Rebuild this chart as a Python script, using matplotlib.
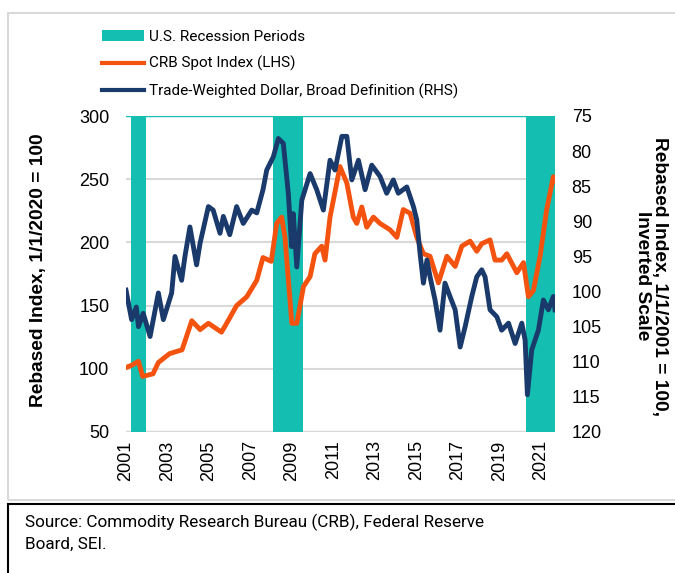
import matplotlib
matplotlib.use("Agg")
import matplotlib.pyplot as plt
from matplotlib.patches import Patch, Rectangle
from matplotlib.lines import Line2D

plt.rcParams['font.family'] = ['Liberation Sans', 'DejaVu Sans']
narrow = ['Roboto', 'Liberation Sans', 'DejaVu Sans']

# CRB spot index, left axis
crb_years = [2001.0, 2001.3, 2001.6, 2001.8, 2002.3, 2002.56, 2003.1, 2003.7, 2004.17,
             2004.57, 2004.97, 2005.6, 2005.85, 2006.33, 2006.82, 2007.3, 2007.6, 2008.0,
             2008.26, 2008.5, 2008.66, 2008.99, 2009.23, 2009.55, 2009.87, 2010.1, 2010.43,
             2010.59, 2010.83, 2011.31, 2011.64, 2011.95, 2012.12, 2012.36, 2012.6, 2012.92,
             2013.24, 2013.72, 2014.05, 2014.36, 2014.69, 2015.01, 2015.33, 2015.65, 2016.05,
             2016.46, 2016.86, 2017.18, 2017.58, 2017.9, 2018.14, 2018.54, 2018.78, 2019.1,
             2019.35, 2019.83, 2020.15, 2020.39, 2020.63, 2020.95, 2021.27, 2021.59, 2021.67]
crb_vals = [101, 103, 106, 94, 96, 105, 112, 115, 138,
            131, 136, 129, 136, 150, 157, 170, 188, 185,
            215, 220, 204, 136, 136, 165, 173, 191, 197,
            186, 220, 260, 247, 220, 215, 228, 212, 220,
            215, 210, 204, 226, 223, 204, 191, 189, 168,
            189, 181, 197, 201, 193, 199, 202, 186, 186,
            191, 176, 184, 157, 162, 189, 226, 252, 249]

# Trade-weighted dollar, right axis (inverted)
usd_years = [2001.0, 2001.27, 2001.5, 2001.6, 2001.83, 2002.16, 2002.56, 2002.8, 2003.2,
             2003.36, 2003.68, 2003.84, 2004.08, 2004.4, 2004.57, 2004.97, 2005.2, 2005.53,
             2005.69, 2006.0, 2006.33, 2006.65, 2007.06, 2007.3, 2007.6, 2007.78, 2008.1,
             2008.34, 2008.58, 2008.82, 2008.98, 2009.06, 2009.23, 2009.47, 2009.87, 2010.19,
             2010.51, 2010.83, 2011.07, 2011.4, 2011.64, 2011.88, 2012.2, 2012.52, 2012.84,
             2013.24, 2013.56, 2013.88, 2014.12, 2014.53, 2014.85, 2015.01, 2015.17, 2015.33,
             2015.5, 2015.65, 2015.89, 2016.13, 2016.37, 2016.61, 2016.86, 2017.1, 2017.34,
             2017.66, 2017.9, 2018.14, 2018.3, 2018.54, 2018.87, 2019.1, 2019.43, 2019.75,
             2020.07, 2020.23, 2020.34, 2020.55, 2020.87, 2021.11, 2021.35, 2021.59, 2021.67]
usd_vals = [99.8, 104.0, 102.2, 105.0, 103.1, 106.4, 100.2, 104.0, 100.2,
            95.0, 98.4, 95.0, 90.8, 96.2, 93.1, 87.9, 88.4, 91.7,
            89.3, 91.9, 87.9, 90.3, 88.4, 88.8, 85.5, 82.7, 80.8,
            78.2, 78.9, 86.0, 93.6, 88.9, 96.5, 87.0, 83.2, 85.5,
            88.4, 81.3, 82.7, 77.9, 77.9, 84.1, 81.3, 85.5, 82.0,
            83.6, 86.0, 84.1, 86.0, 85.1, 87.9, 89.8, 94.6, 98.8,
            95.5, 97.9, 101.2, 105.5, 98.8, 100.7, 102.6, 107.9, 105.0,
            100.7, 97.9, 96.9, 97.9, 102.6, 103.6, 105.5, 104.5, 107.4,
            104.5, 106.9, 114.7, 108.3, 105.5, 101.2, 102.6, 100.7, 102.6]

recession_starts = [2001.25, 2008.07, 2020.28]
recession_ends = [2001.95, 2009.55, 2021.67]

year_ticks = list(range(2001, 2022, 2))
left_ticks = [50, 100, 150, 200, 250, 300]
right_ticks = [75, 80, 85, 90, 95, 100, 105, 110, 115, 120]

teal = "#14BFB1"
orange = "#F4520F"
navy = "#1A3A6C"

fig = plt.figure(figsize=(6.75, 5.73), dpi=100)
ax = fig.add_axes([126 / 675, 1 - 432 / 573, 429 / 675, 316 / 573])
ax2 = ax.twinx()

for y in left_ticks[1:-1]:
    ax.axhline(y, color="#d9d9d9", lw=1.5, zorder=0)
ax.axhline(50, color="#d9d9d9", lw=2.5, zorder=0)
for s, e in zip(recession_starts, recession_ends):
    ax.axvspan(s, e, color=teal, lw=0, zorder=1)
ax.axhline(300, color=teal, lw=1, zorder=1)

ax.plot(crb_years, crb_vals, color=orange, lw=3.5, zorder=3)
ax2.plot(usd_years, usd_vals, color=navy, lw=3.5, zorder=3)

ax.set_xlim(2001.0, 2021.67)
ax.set_ylim(50, 300)
ax2.set_ylim(120, 75)
ax.set_yticks(left_ticks)
ax2.set_yticks(right_ticks)
ax.set_xticks(year_ticks)
ax.set_xticklabels([str(y) for y in year_ticks], rotation=90)

for a in (ax, ax2):
    for sp in a.spines.values():
        sp.set_visible(False)
ax.tick_params(axis="y", length=0, pad=12, labelsize=13)
ax2.tick_params(axis="y", length=0, pad=12, labelsize=13)
ax.tick_params(axis="x", length=0, pad=6, labelsize=13)

fig.text(39 / 675, 1 - 270 / 573, "Rebased Index, 1/1/2020 = 100", rotation=90,
         ha="center", va="center", fontsize=13.8, fontweight="bold")
fig.text(651 / 675, 1 - 276 / 573, "Rebased Index, 1/1/2001 = 100,\nInverted Scale",
         rotation=270, ha="center", va="center", fontsize=13.8, fontweight="bold",
         multialignment="center", linespacing=1.0)

handles = [Patch(facecolor=teal, edgecolor="none"),
           Line2D([0], [0], color=orange, lw=3),
           Line2D([0], [0], color=navy, lw=3)]
labels = ["U.S. Recession Periods", "CRB Spot Index (LHS)",
          "Trade-Weighted Dollar, Broad Definition (RHS)"]
fig.legend(handles, labels, loc="upper left", bbox_to_anchor=(96 / 675, 1 - 24 / 573),
           frameon=False, prop={"family": narrow, "size": 11.0}, handlelength=2.75,
           handleheight=0.72, handletextpad=0.3, labelspacing=0.78, borderaxespad=0)

# outer frames
fig.add_artist(Rectangle((8 / 675, 1 - 500 / 573), 1.1, 487 / 573, transform=fig.transFigure,
                         fill=False, edgecolor="#d9d9d9", lw=1.5))
fig.add_artist(Rectangle((8 / 675, -0.05), 1.1, 1 - 504 / 573 + 0.05, transform=fig.transFigure,
                         fill=False, edgecolor="black", lw=1.5))
fig.text(25 / 675, 1 - 533 / 573, "Source: Commodity Research Bureau (CRB), Federal Reserve\nBoard, SEI.",
         ha="left", va="center", family=narrow, fontsize=12.3, linespacing=1.45)

fig.savefig("out.png", dpi=100)
